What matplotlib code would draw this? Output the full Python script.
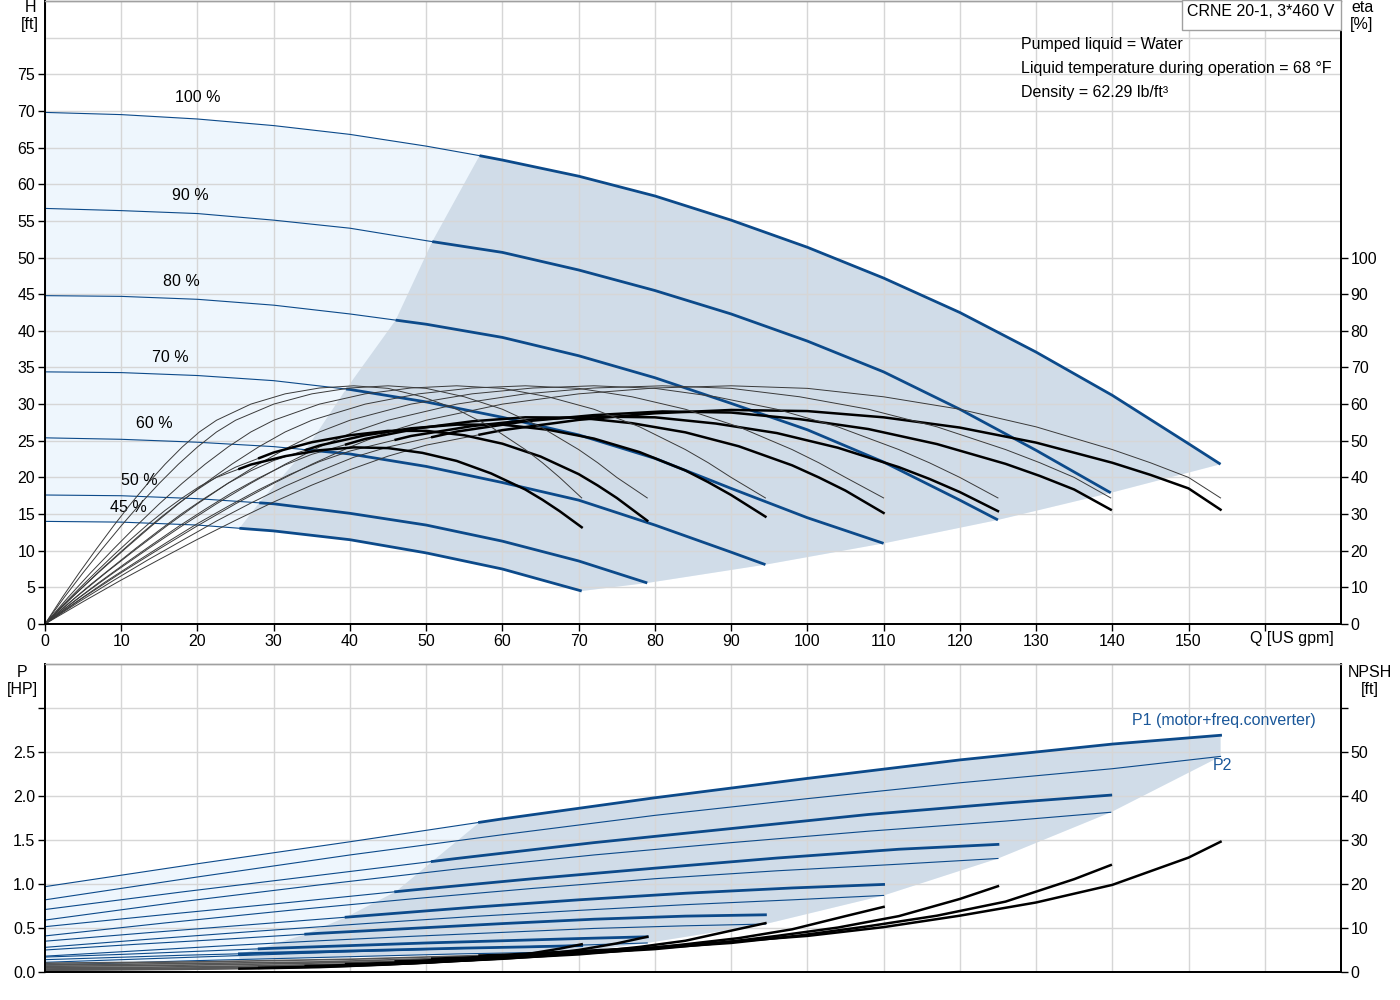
import numpy as np
import matplotlib.pyplot as plt
from matplotlib.patches import Rectangle

plt.rcParams['font.family'] = ['Liberation Sans', 'DejaVu Sans']
plt.rcParams['font.size'] = 11.5
plt.rcParams['lines.solid_joinstyle'] = 'round'

BLUE = '#0c4a8a'
LIGHT = '#eef6fd'
SHADE = '#d0dce8'
GRID = '#d6d6d6'
THIN = '#3a3a3a'
FS = 11.5

speed_labels = ['100 %', '90 %', '80 %', '70 %', '60 %', '50 %', '45 %']
# flow where the operating range starts on each speed curve
q_min = [57.0, 50.8, 46.0, 39.5, 34.2, 28.1, 25.5]

# ---- H curves ----
q_h100 = [0, 10, 20, 30, 40, 50, 57, 60, 70, 80, 90, 100, 110, 120, 130, 140, 150, 154.2]
h100 = [69.8, 69.5, 68.9, 68.0, 66.8, 65.2, 63.9, 63.3, 61.1, 58.4, 55.1, 51.4, 47.2, 42.5, 37.1, 31.2, 24.6, 21.8]
q_h90 = [0, 10, 20, 30, 40, 50, 60, 70, 80, 90, 100, 110, 120, 130, 139.8]
h90 = [56.7, 56.4, 56.0, 55.1, 54.0, 52.3, 50.7, 48.3, 45.5, 42.3, 38.6, 34.4, 29.3, 23.7, 17.9]
q_h80 = [0, 10, 20, 30, 40, 50, 60, 70, 80, 90, 100, 110, 120, 125]
h80 = [44.8, 44.7, 44.3, 43.5, 42.3, 40.9, 39.1, 36.6, 33.6, 30.1, 26.5, 22.1, 16.9, 14.2]
q_h70 = [0, 10, 20, 30, 40, 50, 60, 70, 80, 90, 100, 110]
h70 = [34.4, 34.3, 33.9, 33.2, 32.0, 30.3, 28.2, 25.8, 22.6, 18.5, 14.5, 11.0]
q_h60 = [0, 10, 20, 30, 40, 50, 60, 70, 80, 90, 94.5]
h60 = [25.4, 25.2, 24.8, 24.2, 23.2, 21.5, 19.3, 16.9, 13.5, 9.8, 8.1]
q_h50 = [0, 10, 20, 30, 40, 50, 60, 70, 79]
h50 = [17.6, 17.5, 17.1, 16.4, 15.1, 13.5, 11.3, 8.6, 5.6]
q_h45 = [0, 10, 20, 30, 40, 50, 60, 70.4]
h45 = [14.0, 13.9, 13.5, 12.7, 11.5, 9.7, 7.5, 4.5]

# ---- efficiency curves (pump eta is the same reading on every speed curve) ----
q_eta100 = [0, 5, 10, 15, 20, 25, 30, 35, 40, 45, 50, 60, 70, 80, 90, 100, 110, 120, 130, 140, 145, 150, 154.2]
q_eta90 = [0, 4.5, 9, 13.5, 18, 22.5, 27, 31.5, 36, 40.5, 45, 54, 63, 72, 81, 90, 99, 108, 117, 126, 130.5, 135, 139.8]
q_eta80 = [0, 4, 8, 12, 16, 20, 24, 28, 32, 36, 40, 48, 56, 64, 72, 80, 88, 96, 104, 112, 116, 120, 125]
q_eta70 = [0, 3.5, 7, 10.5, 14, 17.5, 21, 24.5, 28, 31.5, 35, 42, 49, 56, 63, 70, 77, 84, 91, 98, 101.5, 105, 110]
q_eta60 = [0, 3, 6, 9, 12, 15, 18, 21, 24, 27, 30, 36, 42, 48, 54, 60, 66, 72, 78, 84, 87, 90, 94.5]
q_eta50 = [0, 2.5, 5, 7.5, 10, 12.5, 15, 17.5, 20, 22.5, 25, 30, 35, 40, 45, 50, 55, 60, 65, 70, 72.5, 75, 79]
q_eta45 = [0, 2.25, 4.5, 6.75, 9, 11.25, 13.5, 15.75, 18, 20.25, 22.5, 27, 31.5, 36, 40.5, 45, 49.5, 54, 58.5, 63, 65.25, 67.5, 70.4]
eta_pump = [0, 7.2, 14, 20.5, 26.8, 32.8, 38.4, 43.6, 48.3, 52.4, 55.6, 60.0, 62.8, 64.4, 65, 64.3, 62.0, 58.6, 53.8, 47.6, 44, 40, 34.4]
eta_tot100 = [0, 6.1, 12.0, 17.6, 23.1, 28.3, 33.3, 37.9, 42.1, 45.8, 48.8, 52.9, 55.7, 57.5, 58.4, 58.1, 56.4, 53.6, 49.5, 44.0, 40.7, 37.0, 31.2]
eta_tot90 = [0, 6.1, 11.9, 17.5, 22.8, 28.1, 33.0, 37.6, 41.7, 45.5, 48.3, 52.5, 55.3, 57.0, 58.0, 57.7, 55.9, 53.2, 49.1, 43.7, 40.4, 36.7, 31.2]
eta_tot80 = [0, 5.9, 11.6, 17.0, 22.3, 27.4, 32.1, 36.6, 40.7, 44.3, 47.2, 51.3, 54.0, 55.8, 56.6, 56.4, 54.7, 52.1, 48.1, 42.8, 39.6, 36.0, 30.8]
eta_tot70 = [0, 5.7, 11.2, 16.5, 21.6, 26.6, 31.3, 35.8, 39.8, 43.4, 46.3, 50.5, 53.4, 55.3, 56.4, 56.3, 54.8, 52.3, 48.5, 43.3, 40.0, 36.4, 30.3]
eta_tot60 = [0, 5.5, 10.8, 15.8, 20.8, 25.6, 30.2, 34.4, 38.4, 41.8, 44.6, 48.7, 51.5, 53.4, 54.4, 54.4, 53.0, 50.6, 46.9, 41.9, 38.7, 35.2, 29.3]
eta_tot50 = [0, 5.2, 10.2, 15.1, 19.8, 24.4, 28.8, 32.9, 36.7, 40.1, 42.8, 46.8, 49.6, 51.5, 52.7, 52.7, 51.5, 49.2, 45.7, 40.9, 37.8, 34.4, 28.2]
eta_tot45 = [0, 5.0, 9.7, 14.3, 18.8, 23.1, 27.2, 31.0, 34.4, 37.5, 40.0, 43.5, 45.8, 47.4, 48.2, 48.0, 46.7, 44.5, 41.1, 36.7, 33.9, 30.8, 26.4]

# ---- power curves ----
q_p100 = [0, 20, 40, 60, 80, 100, 120, 140, 154.2]
p1_100 = [0.97, 1.23, 1.48, 1.74, 1.98, 2.20, 2.41, 2.59, 2.69]
p2_100 = [0.82, 1.08, 1.33, 1.56, 1.78, 1.97, 2.15, 2.31, 2.45]
q_p90 = [0, 18, 36, 54, 72, 90, 108, 126, 139.8]
p1_90 = [0.71, 0.91, 1.10, 1.29, 1.47, 1.63, 1.79, 1.92, 2.01]
p2_90 = [0.59, 0.80, 0.99, 1.17, 1.33, 1.47, 1.60, 1.715, 1.815]
q_p80 = [0, 16, 32, 48, 64, 80, 96, 112, 125]
p1_80 = [0.515, 0.655, 0.79, 0.93, 1.06, 1.18, 1.295, 1.395, 1.45]
p2_80 = [0.41, 0.56, 0.70, 0.83, 0.95, 1.06, 1.15, 1.225, 1.29]
q_p70 = [0, 14, 28, 42, 56, 70, 84, 98, 110]
p1_70 = [0.35, 0.45, 0.545, 0.64, 0.735, 0.82, 0.895, 0.955, 0.995]
p2_70 = [0.28, 0.375, 0.465, 0.55, 0.63, 0.70, 0.765, 0.82, 0.87]
q_p60 = [0, 12, 24, 36, 48, 60, 72, 84, 94.5]
p1_60 = [0.25, 0.315, 0.375, 0.44, 0.495, 0.55, 0.60, 0.635, 0.65]
p2_60 = [0.18, 0.24, 0.30, 0.355, 0.405, 0.45, 0.495, 0.525, 0.545]
q_p50 = [0, 10, 20, 30, 40, 50, 60, 70, 79]
p1_50 = [0.17, 0.20, 0.235, 0.27, 0.30, 0.33, 0.355, 0.38, 0.40]
p2_50 = [0.11, 0.14, 0.17, 0.20, 0.23, 0.255, 0.28, 0.305, 0.33]
q_p45 = [0, 9, 18, 27, 36, 45, 54, 63, 70.4]
p1_45 = [0.14, 0.165, 0.19, 0.21, 0.23, 0.25, 0.27, 0.285, 0.30]
p2_45 = [0.08, 0.10, 0.125, 0.145, 0.165, 0.185, 0.205, 0.22, 0.235]

# ---- NPSH curves ----
q_n100 = [0, 20, 40, 60, 80, 100, 110, 120, 130, 140, 150, 154.2]
npsh100 = [2.0, 2.3, 2.9, 3.9, 5.6, 8.2, 10.2, 12.8, 15.8, 19.8, 26.0, 29.6]
q_n90 = [0, 18, 36, 54, 72, 90, 99, 108, 117, 126, 135, 139.8]
npsh90 = [1.6, 1.9, 2.3, 3.2, 4.5, 6.6, 8.3, 10.4, 12.8, 16.0, 21.1, 24.3]
q_n80 = [0, 16, 32, 48, 64, 80, 88, 96, 104, 112, 120, 125]
npsh80 = [1.3, 1.5, 1.9, 2.5, 3.6, 5.2, 6.5, 8.2, 10.1, 12.7, 16.6, 19.5]
q_n70 = [0, 14, 28, 42, 56, 70, 77, 84, 91, 98, 105, 110]
npsh70 = [1.0, 1.1, 1.4, 1.9, 2.7, 4.0, 5.0, 6.3, 7.7, 9.7, 12.7, 14.8]
q_n60 = [0, 12, 24, 36, 48, 60, 66, 72, 78, 84, 90, 94.5]
npsh60 = [0.7, 0.8, 1.0, 1.4, 2.0, 3.0, 3.7, 4.6, 5.7, 7.1, 9.4, 11.1]
q_n50 = [0, 10, 20, 30, 40, 50, 55, 60, 65, 70, 75, 79]
npsh50 = [0.5, 0.6, 0.7, 1.0, 1.4, 2.1, 2.6, 3.2, 4.0, 5.0, 6.5, 8.0]
q_n45 = [0, 9, 18, 27, 36, 45, 49.5, 54, 58.5, 63, 67.5, 70.4]
npsh45 = [0.4, 0.5, 0.6, 0.8, 1.1, 1.7, 2.1, 2.6, 3.2, 4.0, 5.3, 6.3]

info_lines = ['Pumped liquid = Water',
              'Liquid temperature during operation = 68 °F',
              'Density = 62.29 lb/ft³']

H = [(q_h100, h100), (q_h90, h90), (q_h80, h80), (q_h70, h70),
     (q_h60, h60), (q_h50, h50), (q_h45, h45)]
Q_ETA = [q_eta100, q_eta90, q_eta80, q_eta70, q_eta60, q_eta50, q_eta45]
ETA_TOT = [eta_tot100, eta_tot90, eta_tot80, eta_tot70, eta_tot60, eta_tot50, eta_tot45]
P = [(q_p100, p1_100, p2_100), (q_p90, p1_90, p2_90), (q_p80, p1_80, p2_80),
     (q_p70, p1_70, p2_70), (q_p60, p1_60, p2_60), (q_p50, p1_50, p2_50),
     (q_p45, p1_45, p2_45)]
NPSH = [(q_n100, npsh100), (q_n90, npsh90), (q_n80, npsh80), (q_n70, npsh70),
        (q_n60, npsh60), (q_n50, npsh50), (q_n45, npsh45)]
label_pos = [(20, 71.8), (19.1, 58.4), (17.9, 46.7), (16.4, 36.4),
             (14.4, 27.3), (12.4, 19.6), (10.9, 15.9)]


def split_at(q, v, qc):
    q = np.asarray(q, float)
    v = np.asarray(v, float)
    vc = np.interp(qc, q, v)
    m = q < qc
    left = (np.append(q[m], qc), np.append(v[m], vc))
    right = (np.insert(q[~m], 0, qc), np.insert(v[~m], 0, vc))
    return left, right


def style_axes(a):
    for s in ['left', 'bottom', 'right']:
        a.spines[s].set_linewidth(1.3)
        a.spines[s].set_color('black')
    a.spines['top'].set_color('#a0a0a0')
    a.spines['top'].set_linewidth(1.0)


fig = plt.figure(figsize=(14, 10), dpi=100)
ax = fig.add_axes([45 / 1400, 0.376, 1296 / 1400, 0.623])
axe = ax.twinx()
axb = fig.add_axes([45 / 1400, 0.028, 1296 / 1400, 0.308])
axn = axb.twinx()

# ================= top panel =================
ax.set_xlim(0, 170)
ax.set_ylim(0, 85)
axe.set_ylim(0, 170)

# shaded areas
light = list(zip(q_h100, h100))
for q, h in H[1:]:
    light.append((q[-1], h[-1]))
light += list(zip(q_h45, h45))[::-1]
ax.fill([p[0] for p in light], [p[1] for p in light], color=LIGHT, lw=0, zorder=0.8)

shade = [(qm, np.interp(qm, q, h)) for qm, (q, h) in zip(q_min, H)]
shade += [(a, b) for a, b in zip(q_h45, h45) if a > q_min[6]]
for q, h in H[5::-1]:
    shade.append((q[-1], h[-1]))
shade += [(a, b) for a, b in list(zip(q_h100, h100))[-2::-1] if a > q_min[0]]
ax.fill([p[0] for p in shade], [p[1] for p in shade], color=SHADE, lw=0, zorder=0.9)

for (q, h), qm, lab, pos in zip(H, q_min, speed_labels, label_pos):
    (ql, hl), (qr, hr) = split_at(q, h, qm)
    ax.plot(ql, hl, color=BLUE, lw=0.8, zorder=2)
    ax.plot(qr, hr, color=BLUE, lw=2.0, zorder=2, solid_capstyle='butt')
    ax.text(pos[0], pos[1], lab, ha='center', va='center', fontsize=FS)

for q, et, qm in zip(Q_ETA, ETA_TOT, q_min):
    axe.plot(q, eta_pump, color=THIN, lw=0.7)
    (ql, el), (qr, er) = split_at(q, et, qm)
    axe.plot(ql, el, color=THIN, lw=0.7)
    axe.plot(qr, er, color='black', lw=1.8)

ax.set_xticks(np.arange(0, 170, 10))
ax.set_xticklabels([str(v) for v in range(0, 160, 10)] + [''])
ax.set_yticks(np.arange(0, 80, 5))
ax.set_yticks([80], minor=True)
axe.set_yticks(np.arange(0, 110, 10))
ax.grid(True, which='both', color=GRID, lw=1.0)
ax.tick_params(direction='out', length=5, width=1, labelsize=FS, pad=2)
ax.tick_params(which='minor', length=0)
axe.tick_params(direction='out', length=5, width=1, labelsize=FS, pad=2)
style_axes(ax)
style_axes(axe)

# ================= bottom panel =================
axb.set_xlim(0, 170)
axb.set_ylim(0, 3.5)
axn.set_ylim(0, 70)

light_b = list(zip(q_p100, p1_100)) + [(q_p100[-1], p2_100[-1])]
for q, p1, p2 in P[1:]:
    light_b.append((q[-1], p2[-1]))
light_b += list(zip(q_p45, p2_45))[::-1]
axb.fill([p[0] for p in light_b], [p[1] for p in light_b], color=LIGHT, lw=0, zorder=0.8)

shade_b = [(qm, np.interp(qm, q, p1)) for qm, (q, p1, p2) in zip(q_min, P)]
shade_b.append((q_min[6], np.interp(q_min[6], q_p45, p2_45)))
shade_b += [(a, b) for a, b in zip(q_p45, p2_45) if a > q_min[6]]
for q, p1, p2 in P[5::-1]:
    shade_b.append((q[-1], p2[-1]))
shade_b += [(a, b) for a, b in list(zip(q_p100, p1_100))[::-1] if a > q_min[0]]
axb.fill([p[0] for p in shade_b], [p[1] for p in shade_b], color=SHADE, lw=0, zorder=0.9)

for (q, p1, p2), qm in zip(P, q_min):
    axb.plot(q, p2, color=BLUE, lw=0.8, zorder=2)
    (ql, pl), (qr, pr) = split_at(q, p1, qm)
    axb.plot(ql, pl, color=BLUE, lw=0.8, zorder=2)
    axb.plot(qr, pr, color=BLUE, lw=2.0, zorder=2)

for (q, n), qm in zip(NPSH, q_min):
    (ql, nl), (qr, nr) = split_at(q, n, qm)
    axn.plot(ql, nl, color='#555555', lw=1.2)
    axn.plot(qr, nr, color='black', lw=1.8)

axb.set_xticks(np.arange(10, 170, 10))
axb.set_xticklabels([])
axb.set_yticks(np.arange(0, 3.01, 0.5))
axb.set_yticklabels(['0.0', '0.5', '1.0', '1.5', '2.0', '2.5', ''])
axn.set_yticks(np.arange(0, 61, 10))
axn.set_yticklabels(['0', '10', '20', '30', '40', '50', ''])
axb.grid(True, color=GRID, lw=1.0)
axb.tick_params(axis='x', length=0)
axb.tick_params(axis='y', direction='out', length=5, width=1, labelsize=FS, pad=2)
axn.tick_params(direction='out', length=5, width=1, labelsize=FS, pad=2)
style_axes(axb)
style_axes(axn)

# ================= texts =================
fig.text(30 / 1400, 1 - 16 / 1000, 'H\n[ft]', ha='center', va='center', fontsize=FS)
fig.text(1362 / 1400, 1 - 16 / 1000, 'eta\n[%]', ha='center', va='center', fontsize=FS)
fig.text(1292 / 1400, 1 - 639 / 1000, 'Q [US gpm]', ha='center', va='center', fontsize=FS)
fig.text(22 / 1400, 1 - 681 / 1000, 'P\n[HP]', ha='center', va='center', fontsize=FS)
fig.text(1370 / 1400, 1 - 681 / 1000, 'NPSH\n[ft]', ha='center', va='center', fontsize=FS)

for i, line in enumerate(info_lines):
    fig.text(1021 / 1400, 1 - (44 + 24 * i) / 1000, line, ha='left', va='center', fontsize=FS)

fig.patches.append(Rectangle((1182 / 1400, 1 - 30 / 1000), 159 / 1400, 0.0305,
                             transform=fig.transFigure, facecolor='white',
                             edgecolor='#a0a0a0', lw=1.0, zorder=5))
fig.text(1261 / 1400, 1 - 12 / 1000, 'CRNE 20-1, 3*460 V', ha='center', va='center',
         fontsize=11.5, zorder=6)

fig.text(1132 / 1400, 1 - 720 / 1000, 'P1 (motor+freq.converter)', ha='left', va='center',
         fontsize=FS, color='#1a5799')
fig.text(1213 / 1400, 1 - 765 / 1000, 'P2', ha='left', va='center', fontsize=FS,
         color='#1a5799')

fig.savefig('out.png', dpi=100)
